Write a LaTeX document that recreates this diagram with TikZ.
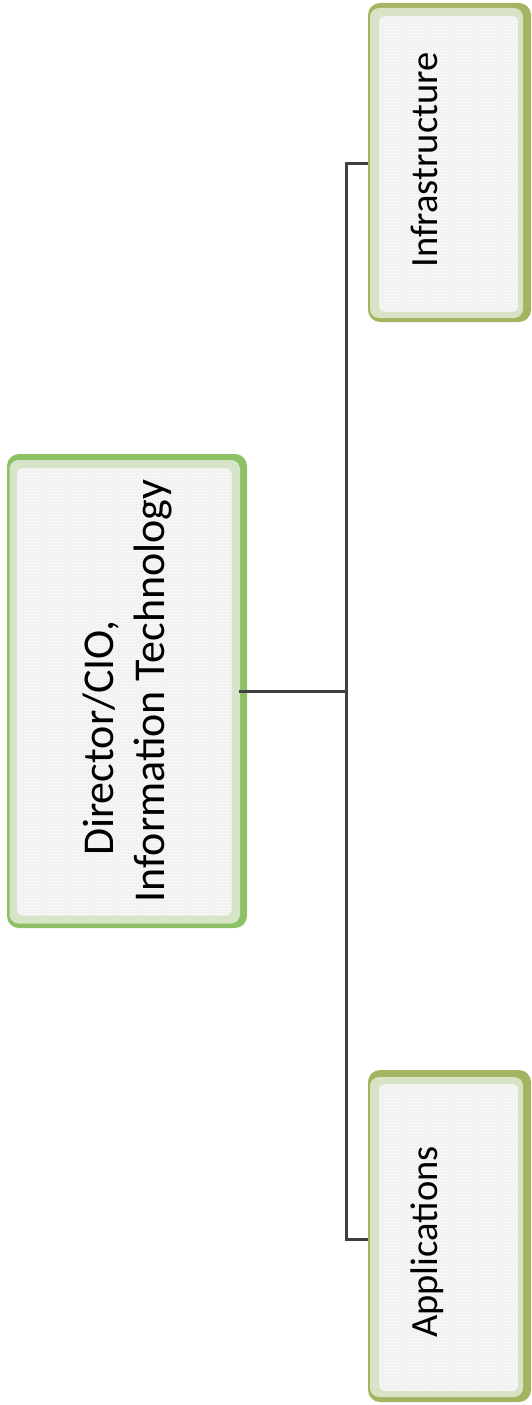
\documentclass[tikz,border=0pt]{standalone}
\usepackage{fontspec}
\setmainfont{Carlito}
\usetikzlibrary{patterns.meta}

\definecolor{leadgreen}{RGB}{141,193,102}
\definecolor{unitolive}{RGB}{164,180,96}
\definecolor{bandgreen}{RGB}{214,229,199}
\definecolor{bandolive}{RGB}{215,227,196}
\definecolor{panelgray}{RGB}{242,242,242}
\definecolor{linegray}{RGB}{64,64,64}

% fine white dot texture of the inner panels
\tikzdeclarepattern{
  name=softdots,
  type=uncolored,
  bounding box={(0pt,0pt) and (3.4pt,3.4pt)},
  tile size={(3.4pt,3.4pt)},
  code={\fill (1.7pt,1.7pt) circle (0.75pt);}
}

\begin{document}
\begin{tikzpicture}[x=1pt,y=-1pt,
  frame/.style={inner sep=0pt, outer sep=0pt, rounded corners=12pt},
  band/.style={rounded corners=9pt},
  panel/.style={rounded corners=6pt, fill=panelgray, postaction={pattern={softdots}, pattern color=white}},
  connector/.style={draw=linegray, line width=3pt},
  lead/.style={font=\fontsize{44}{51}\selectfont, rotate=90, align=center, inner sep=0pt},
  unit/.style={font=\fontsize{38.5}{46}\selectfont, rotate=90, anchor=base, inner sep=0pt}
]
\useasboundingbox (0,0) rectangle (532,1405);

% ---- Director box ----
\node[frame, fill=leadgreen, minimum width=240pt, minimum height=474pt] (director) at (127,691) {};
\fill[band, bandgreen] (9.5,460) rectangle (240,923.5);
\path[panel] (17,468) rectangle (231.5,915.5);
\node[lead] (directortext) at (127.5,691) {Director/CIO,\hspace*{94pt}\\Information Technology};

% ---- Infrastructure box ----
\node[frame, fill=unitolive, minimum width=163pt, minimum height=319pt] (infra) at (449.5,162.5) {};
\fill[band, bandolive] (370,8) rectangle (523,318);
\path[panel] (379,16) rectangle (518,312);
\node[unit] (infratext) at (437,160) {Infrastructure};

% ---- Applications box ----
\node[frame, fill=unitolive, minimum width=163pt, minimum height=332pt] (apps) at (449.5,1236) {};
\fill[band, bandolive] (370,1077) rectangle (523,1397);
\path[panel] (379,1084) rectangle (518,1391);
\node[unit] (appstext) at (437,1242) {Applications};

% ---- connectors ----
\coordinate (topjoint) at (346,163);
\coordinate (midjoint) at (346,691.5);
\coordinate (botjoint) at (346,1239);
\draw[connector] (infra.west |- topjoint) -- (topjoint) -- (botjoint) -- (apps.west |- botjoint);
\draw[connector] ([xshift=-8pt]director.east |- midjoint) -- (midjoint);
\end{tikzpicture}
\end{document}
